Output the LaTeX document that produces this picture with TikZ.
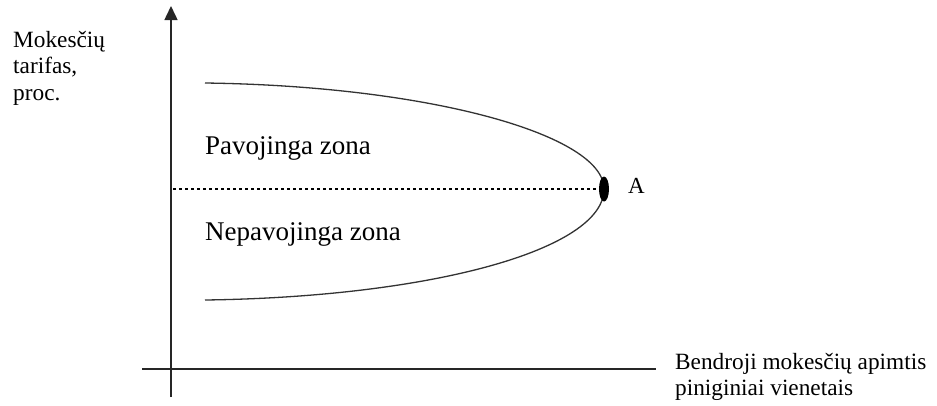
\documentclass[tikz,border=0pt]{standalone}
\usepackage{fontspec}
\setmainfont{Liberation Serif}
\usetikzlibrary{arrows.meta}
\tikzset{
  axisline/.style={line width=1.5pt,black!85},
  curveline/.style={line width=1.3pt,black!80},
  lbl/.style={anchor=base west,inner sep=0pt,font=\fontsize{23.3}{26.5}\selectfont,align=left},
  zone/.style={anchor=base west,inner sep=0pt,font=\fontsize{27}{30}\selectfont},
}
\begin{document}
\begin{tikzpicture}[x=1pt,y=-1pt]
\useasboundingbox (0,0) rectangle (937,405);
% axes
\coordinate (yb) at (171,397);
\coordinate (yt) at (171,6);
\coordinate (xl) at (142,369);
\coordinate (xr) at (656,369);
\draw[axisline] (xl) -- (xr);
\draw[axisline,-{Triangle[length=14pt,width=13pt]}] (yb) -- (yt);
% curve
\coordinate (c1) at (205,83);
\coordinate (v) at (604,189);
\coordinate (c2) at (205,300);
\draw[curveline] (c1) .. controls (430,86) and (604,135) .. (v)
  .. controls (604,250) and (430,297) .. (c2);
% dotted line
\coordinate (d0) at (173,189);
\draw[line width=2.5pt,dash pattern=on 2.5pt off 3.5pt] (d0) -- (v);
% point A
\fill (v) ellipse [x radius=5, y radius=12.5];
\node[anchor=base west,inner sep=0pt,font=\fontsize{23}{26}\selectfont] (A) at (628,193) {A};
% labels
\node[zone] (pav) at (205,154) {Pavojinga zona};
\node[zone] (nep) at (205,240) {Nepavojinga zona};
\node[lbl] (ylab) at (13,100) {Mokesčių\\tarifas,\\proc.};
\node[lbl,font=\fontsize{23.3}{26}\selectfont] (xlab) at (675,395) {Bendroji mokesčių apimtis\\piniginiai vienetais};
\end{tikzpicture}
\end{document}
